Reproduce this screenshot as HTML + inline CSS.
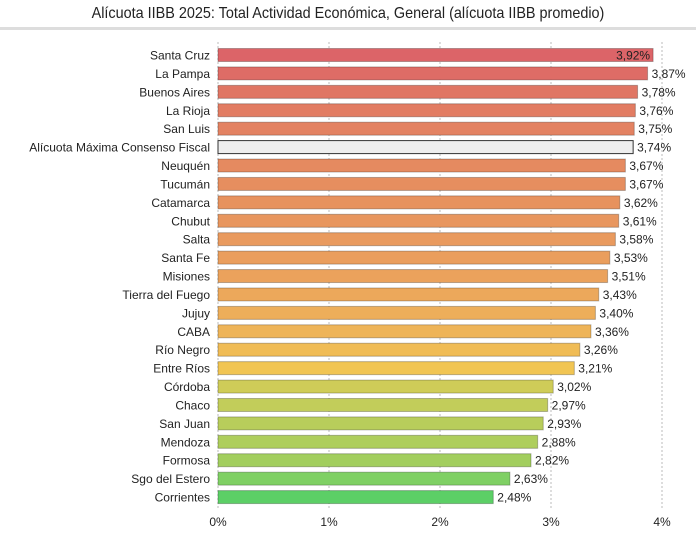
<!DOCTYPE html><html><head><style>
body{margin:0;width:696px;height:528px;background:#fff;overflow:hidden;font-family:"Liberation Sans",sans-serif;}
</style></head><body>
<svg width="696" height="528" xmlns="http://www.w3.org/2000/svg" font-family="Liberation Sans, sans-serif">
<text x="348" y="18" text-anchor="middle" font-size="16" fill="#222" transform="translate(348,0) scale(0.9,1) translate(-348,0)">Alícuota IIBB 2025: Total Actividad Económica, General (alícuota IIBB promedio)</text>
<rect x="0" y="27" width="696" height="3" fill="#ddd"/>
<g stroke="#bbb" stroke-dasharray="2,2" stroke-width="1">
<line x1="218" y1="42" x2="218" y2="508"/><line x1="329" y1="42" x2="329" y2="508"/><line x1="440" y1="42" x2="440" y2="508"/><line x1="551" y1="42" x2="551" y2="508"/><line x1="662" y1="42" x2="662" y2="508"/>
</g>
<g font-size="12" fill="#222" text-anchor="middle">
<text x="218" y="526">0%</text><text x="329" y="526">1%</text><text x="440" y="526">2%</text><text x="551" y="526">3%</text><text x="662" y="526">4%</text>
</g>
<g id="bars" font-size="12" fill="#222"></g>
</svg>
<script>
var d=[["Santa Cruz",3.92,"#dc6468"],["La Pampa",3.87,"#de6c66"],["Buenos Aires",3.78,"#e07664"],["La Rioja",3.76,"#e27c62"],["San Luis",3.75,"#e38262"],["Alícuota Máxima Consenso Fiscal",3.74,"#eeeeee"],["Neuquén",3.67,"#e58a60"],["Tucumán",3.67,"#e68e5f"],["Catamarca",3.62,"#e7925e"],["Chubut",3.61,"#e8965e"],["Salta",3.58,"#e99a5e"],["Santa Fe",3.53,"#ea9e5d"],["Misiones",3.51,"#eba25c"],["Tierra del Fuego",3.43,"#eca85b"],["Jujuy",3.40,"#edae5a"],["CABA",3.36,"#eeb458"],["Río Negro",3.26,"#f0bc55"],["Entre Ríos",3.21,"#f1c553"],["Córdoba",3.02,"#cfcc58"],["Chaco",2.97,"#c2cd5a"],["San Juan",2.93,"#b8cd5b"],["Mendoza",2.88,"#aece5c"],["Formosa",2.82,"#a2ce5e"],["Sgo del Estero",2.63,"#7fd064"],["Corrientes",2.48,"#5ccf66"]];
var g=document.getElementById("bars"),s="";
d.forEach(function(r,i){var y=48.5+i*18.42,w=r[1]*111;
s+='<rect x="218" y="'+y+'" width="'+w+'" height="13" fill="'+r[2]+'" stroke="'+(i==5?'#333':'rgba(0,0,0,0.25)')+'" stroke-width="1"/>';
s+='<text x="210" y="'+(y+11)+'" text-anchor="end">'+r[0]+'</text>';
var v=r[1].toFixed(2).replace(".",",")+"%";
if(i==0)s+='<text x="'+(218+w-3)+'" y="'+(y+11)+'" text-anchor="end">'+v+'</text>';
else s+='<text x="'+(218+w+4)+'" y="'+(y+11)+'">'+v+'</text>';});
g.innerHTML=s;
</script>
</body></html>
